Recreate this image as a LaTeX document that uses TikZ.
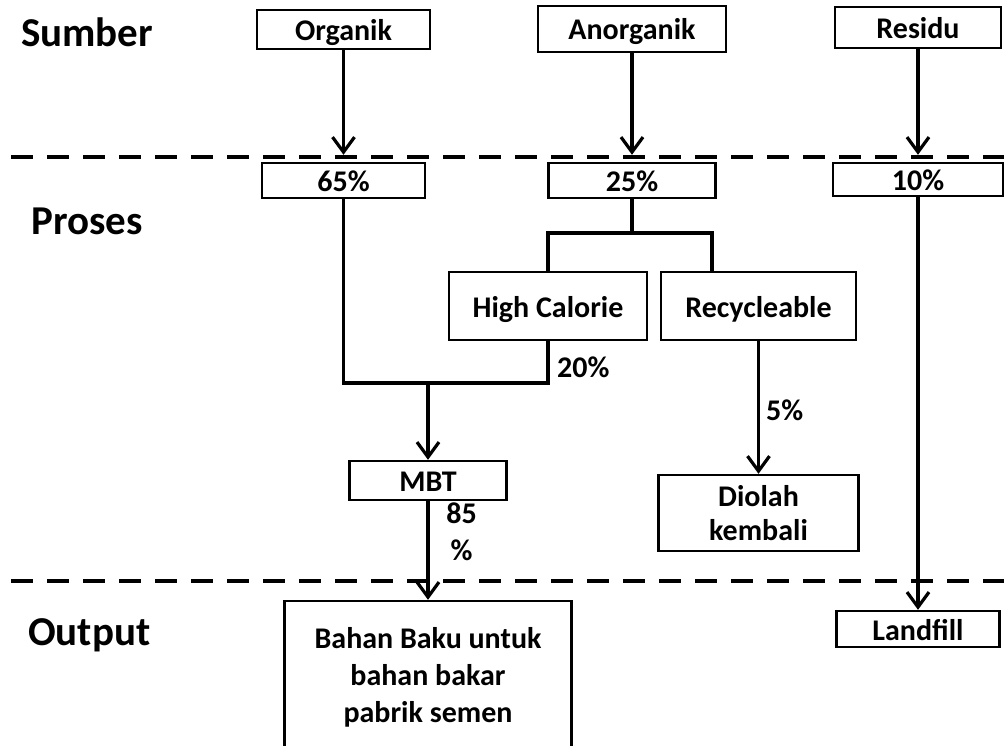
\documentclass[tikz,border=0pt]{standalone}
\usepackage{fontspec}
\setmainfont{Carlito}
\usetikzlibrary{arrows.meta}
\begin{document}
\begin{tikzpicture}[x=1pt,y=-1pt,
  box/.style={draw,line width=2.4pt,inner sep=0pt,font=\fontsize{30}{36}\selectfont\bfseries,text height=22pt,text depth=0pt},
  mbox/.style={draw,line width=2.4pt,inner sep=0pt,align=center,font=\fontsize{30}{34}\selectfont\bfseries},
  lbl/.style={anchor=base west,inner sep=0pt,font=\fontsize{41}{48}\selectfont\bfseries},
  pct/.style={inner sep=0pt,font=\fontsize{30}{37}\selectfont\bfseries},
  line/.style={line width=3.2pt},
  arr/.style={line width=3.2pt,-{Straight Barb[length=15pt,width=22pt]}},
  sep/.style={line width=4pt,dash pattern=on 22pt off 14pt}]
 \useasboundingbox (0,0) rectangle (1004,746);
 % stages
 \node[lbl] (sumber) at (21,47) {Sumber};
 \node[lbl] (proses) at (31,234) {Proses};
 \node[lbl] (output) at (28,645) {Output};
 \draw[sep] (11,157) -- (1004,157);
 \draw[sep] (11,581) -- (1004,581);
 %
 \node[box,minimum width=173pt,minimum height=39pt] (org) at (343.5,29.5) {Organik};
 \node[box,minimum width=188pt,minimum height=46pt] (anorg) at (632,29) {Anorganik};
 \node[box,minimum width=166pt,minimum height=41pt] (res) at (918,27.5) {Residu};
 %
 \node[box,minimum width=163pt,minimum height=35pt] (p65) at (343.5,180.5) {65\%};
 \node[box,minimum width=167pt,minimum height=35pt] (p25) at (632,180.5) {25\%};
 \node[box,minimum width=170pt,minimum height=33pt] (p10) at (918,179.5) {10\%};
 %
 \node[box,minimum width=198pt,minimum height=68pt] (hc) at (548,306) {High Calorie};
 \node[box,minimum width=195pt,minimum height=68pt] (recy) at (758.5,306) {Recycleable};
 \node[box,minimum width=157pt,minimum height=39pt] (mbt) at (428,480.5) {MBT};
 \node[mbox,minimum width=200pt,minimum height=76pt] (diolah) at (758.5,513) {Diolah\\kembali};
 \node[mbox,minimum width=287pt,minimum height=152pt,font=\fontsize{30}{37}\selectfont\bfseries] (bahan) at (428,677) {Bahan Baku untuk\\bahan bakar\\pabrik semen};
 \node[box,minimum width=163pt,minimum height=36pt] (land) at (918,629) {Landfill};
 %
 \draw[arr,shorten >=7pt] (org) -- (p65);
 \draw[arr,shorten >=7pt] (anorg) -- (p25);
 \draw[arr,shorten >=7pt] (res) -- (p10);
 % splitting and merging
 \coordinate (brR) at (712,233);
 \coordinate (merge) at (548,383);
 \draw[line] (p25.south) -- (p25.south |- brR);
 \draw[line] (hc.north) |- (brR) -- (brR |- recy.north);
 \draw[line] (p65.south) |- (merge) -- (hc.south);
 \draw[arr] (mbt.north |- merge) -- (mbt.north);
 \draw[arr] (recy) -- (diolah);
 \draw[arr] (mbt) -- (bahan);
 \draw[arr] (p10) -- (land);
 % shares
 \node[pct,anchor=west] (l20) at (557,367) {20\%};
 \node[pct,anchor=west] (l5) at (766,410) {5\%};
 \node[pct,align=center] (l85) at (461.5,531.5) {85\\\%};
\end{tikzpicture}
\end{document}
